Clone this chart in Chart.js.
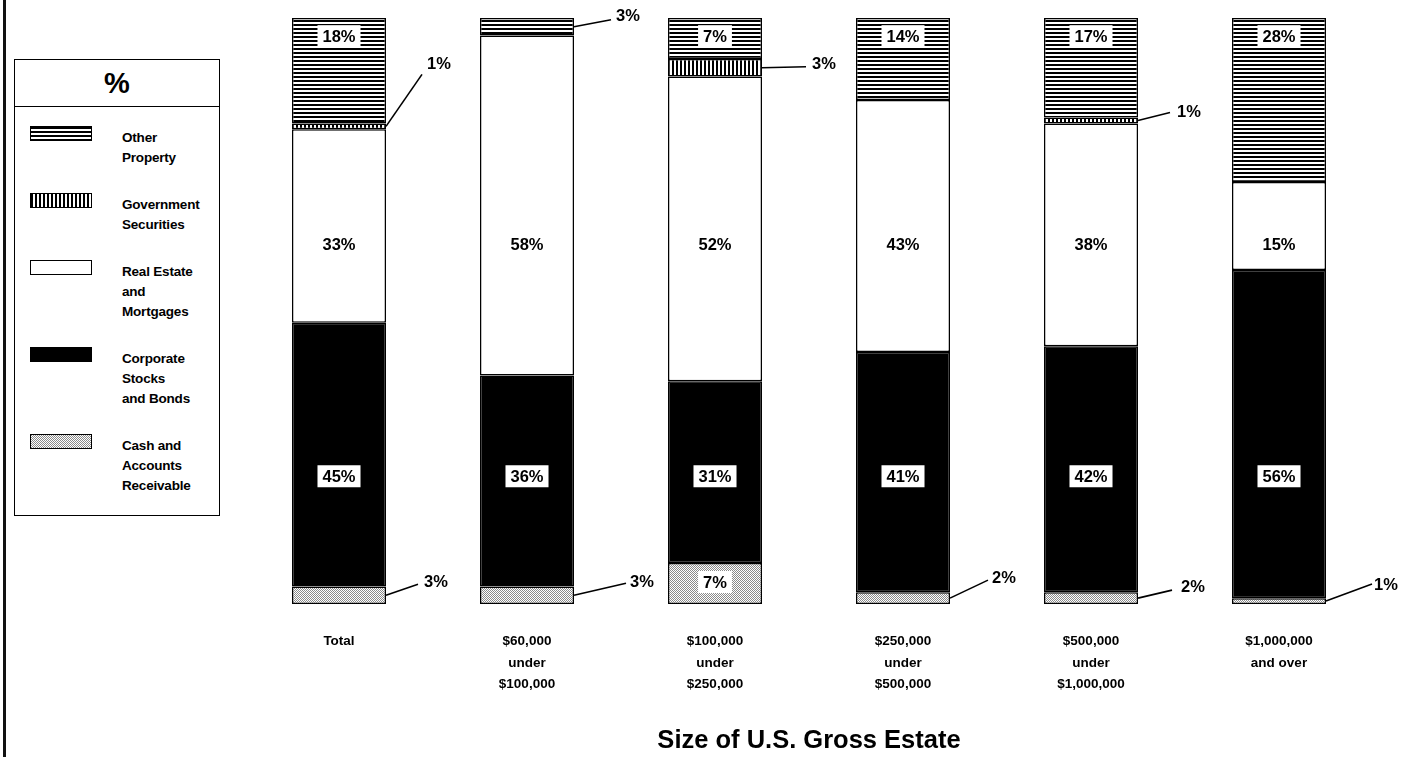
<!DOCTYPE html>
<html>
<head>
<meta charset="utf-8">
<script src="https://cdn.jsdelivr.net/npm/chart.js@4.4.1/dist/chart.umd.min.js"></script>
<style>
  html, body { margin: 0; padding: 0; background: #fff; }
  #wrap { position: relative; width: 1403px; height: 757px; overflow: hidden; background: #fff; }
  #c { position: absolute; left: 0; top: 0; }
  #edge { position: absolute; left: 3px; top: 0; width: 3px; height: 757px; background: #111; }
  #legend { position: absolute; left: 14px; top: 59px; width: 206px; height: 457px; border: 1.5px solid #000;
            box-sizing: border-box; font-family: "Liberation Sans", Arial, sans-serif; color: #000; background: #fff; }
  #legend .head { height: 46px; border-bottom: 1.5px solid #000; font-weight: bold; font-size: 29px;
                  text-align: center; line-height: 46px; }
  #legend .items { position: relative; padding-top: 19px; }
  #legend .item { position: relative; height: auto; margin-bottom: 27px; }
  #legend .sw { position: absolute; left: 15px; top: 0; width: 62px; height: 15px; border: 1px solid #000; box-sizing: border-box; }
  #legend .tx { margin-left: 107px; font-weight: bold; font-size: 13.5px; line-height: 20px; letter-spacing: -0.2px; position: relative; top: 2px; }
</style>
</head>
<body>
<div id="wrap">
  <canvas id="c" width="1403" height="757"></canvas>
  <div id="edge"></div>
  <div id="legend"><div class="head">%</div><div class="items" id="items"></div></div>
</div>
<script>
// ---------------- DATA ----------------
const categories = [
  ['Total'],
  ['$60,000', 'under', '$100,000'],
  ['$100,000', 'under', '$250,000'],
  ['$250,000', 'under', '$500,000'],
  ['$500,000', 'under', '$1,000,000'],
  ['$1,000,000', 'and over']
];
const seriesNames = [
  ['Cash and', 'Accounts', 'Receivable'],
  ['Corporate', 'Stocks', 'and Bonds'],
  ['Real Estate', 'and', 'Mortgages'],
  ['Government', 'Securities'],
  ['Other', 'Property']
];
const cashAccounts      = [3, 3, 7, 2, 2, 1];
const corporateStocks   = [45, 36, 31, 41, 42, 56];
const realEstate        = [33, 58, 52, 43, 38, 15];
const governmentSecur   = [1, 0, 3, 0, 1, 0];
const otherProperty     = [18, 3, 7, 14, 17, 28];
const xTitle = 'Size of U.S. Gross Estate';
const legendTitle = '%';

// ---------------- PATTERNS ----------------
function makeTile(w, h, draw) {
  const c = document.createElement('canvas');
  c.width = w; c.height = h;
  const x = c.getContext('2d');
  x.fillStyle = '#fff'; x.fillRect(0, 0, w, h);
  draw(x);
  return c;
}
const tileH = makeTile(4, 4, x => { x.fillStyle = '#000'; x.fillRect(0, 0, 4, 2); });
const tileV = makeTile(4, 4, x => { x.fillStyle = '#000'; x.fillRect(0, 0, 2, 4); });
const tileDots = makeTile(2, 2, x => { x.fillStyle = '#8a8a8a'; x.fillRect(0, 0, 1, 1); x.fillRect(1, 1, 1, 1); });
const tileWhite = makeTile(2, 2, x => {});
const tileBlack = makeTile(2, 2, x => { x.fillStyle = '#000'; x.fillRect(0, 0, 2, 2); });

const ctx = document.getElementById('c').getContext('2d');
const pat = t => ctx.createPattern(t, 'repeat');
const fills = [pat(tileDots), '#000', '#fff', pat(tileV), pat(tileH)];
const tilesForLegend = [tileDots, tileBlack, tileWhite, tileV, tileH];
const seriesData = [cashAccounts, corporateStocks, realEstate, governmentSecur, otherProperty];

// ---------------- LEGEND (HTML) ----------------
document.querySelector('#legend .head').textContent = legendTitle;
const items = document.getElementById('items');
for (let i = seriesNames.length - 1; i >= 0; i--) {
  const it = document.createElement('div'); it.className = 'item';
  const sw = document.createElement('div'); sw.className = 'sw';
  sw.style.backgroundImage = 'url(' + tilesForLegend[i].toDataURL() + ')';
  const tx = document.createElement('div'); tx.className = 'tx';
  tx.innerHTML = seriesNames[i].join('<br>');
  it.appendChild(sw); it.appendChild(tx); items.appendChild(it);
}

// ---------------- LABEL PLUGIN ----------------
const FONT = '"Liberation Sans", Arial, sans-serif';
const segLabels = {
  id: 'segLabels',
  afterDatasetsDraw(chart, args, opts) {
    const c = chart.ctx, ys = chart.scales.y;
    c.save();
    c.font = 'bold 16.5px ' + FONT;
    c.textBaseline = 'middle';
    chart.data.datasets.forEach((ds, di) => {
      const meta = chart.getDatasetMeta(di);
      meta.data.forEach((bar, i) => {
        const v = ds.data[i];
        if (!v) return;
        const txt = v + '%';
        const out = opts.outside[di + ':' + i];
        if (out) {
          const sx = bar.x + bar.width / 2;
          const sy = (bar.y + bar.base) / 2;
          const ex = sx + out[0], ey = sy + out[1];
          c.strokeStyle = '#000'; c.lineWidth = 1.6;
          c.beginPath(); c.moveTo(sx, sy); c.lineTo(ex, ey); c.stroke();
          c.fillStyle = '#000'; c.textAlign = 'left';
          c.fillText(txt, ex + out[2], ey + out[3]);
        } else {
          const cy = ys.getPixelForValue(opts.insideAt[di]);
          const w = c.measureText(txt).width + 10;
          c.fillStyle = '#fff';
          c.fillRect(bar.x - w / 2, cy - 11, w, 22);
          c.fillStyle = '#000'; c.textAlign = 'center';
          c.fillText(txt, bar.x, cy + 1);
        }
      });
    });
    c.restore();
  }
};

// ---------------- CHART ----------------
new Chart(ctx, {
  type: 'bar',
  data: {
    labels: categories,
    datasets: seriesData.map((d, i) => ({
      label: seriesNames[i].join(' '),
      data: d,
      backgroundColor: fills[i],
      borderColor: '#000',
      borderWidth: 1.5,
      borderSkipped: false,
      barPercentage: 1,
      categoryPercentage: 0.5
    }))
  },
  options: {
    responsive: false,
    animation: false,
    events: [],
    layout: { padding: { left: 245, right: 30, top: 18, bottom: 0 } },
    plugins: {
      legend: { display: false },
      tooltip: { enabled: false },
      segLabels: {
        insideAt: { 0: 3.75, 1: 21.8, 2: 61.3, 4: 96.9 },
        outside: {
          '3:0': [36, -52, 5, -10],
          '0:0': [32, -11, 6, -2],
          '4:1': [37, -7, 5, -3],
          '0:1': [52, -12, 4, -1],
          '3:2': [44, -1, 6, -2],
          '0:3': [38, -18, 4, -2],
          '3:4': [32, -8, 7, 0],
          '0:4': [34, -8, 9, -3],
          '0:5': [46, -17, 2, 1]
        }
      }
    },
    scales: {
      x: {
        stacked: true,
        grid: { display: false, drawTicks: false },
        border: { display: false },
        ticks: {
          color: '#000', autoSkip: false, maxRotation: 0, padding: 27,
          font: { family: FONT, size: 13.5, weight: 'bold', lineHeight: '21.5px' }
        },
        title: {
          display: true, text: xTitle, color: '#000',
          font: { family: FONT, size: 25.5, weight: 'bold' },
          padding: { top: 0, bottom: 1 }
        },
        afterFit: s => { s.height = 153; }
      },
      y: { stacked: true, display: false, min: 0, max: 100 }
    }
  },
  plugins: [segLabels]
});
</script>
</body>
</html>
